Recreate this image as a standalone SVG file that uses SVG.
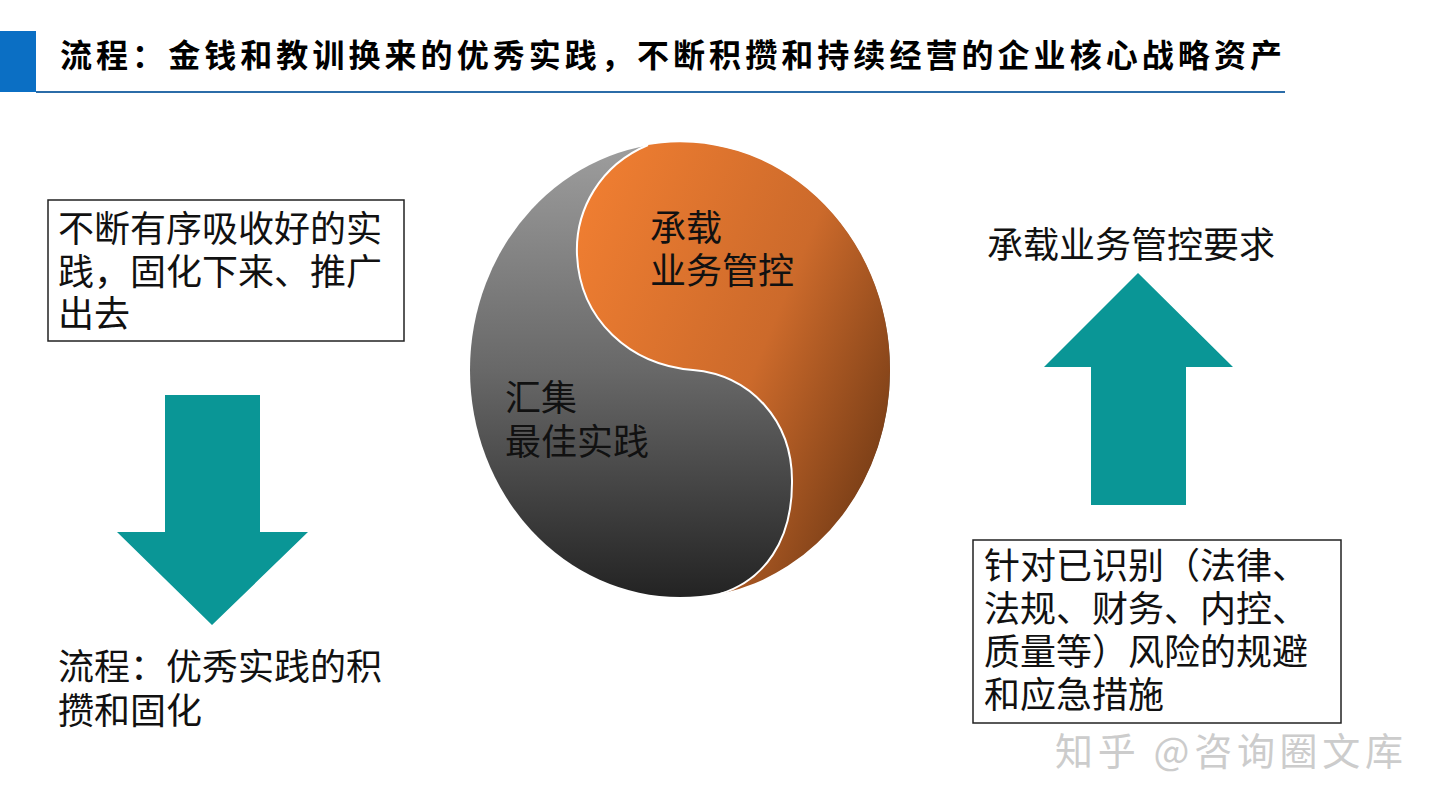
<svg xmlns="http://www.w3.org/2000/svg" width="1440" height="810" viewBox="0 0 1440 810">
  <defs>
    <linearGradient id="grayGrad" x1="0" y1="0" x2="0" y2="1">
      <stop offset="0" stop-color="#9e9e9e"/>
      <stop offset="0.5" stop-color="#686868"/>
      <stop offset="1" stop-color="#232323"/>
    </linearGradient>
    <linearGradient id="orangeGrad" x1="0" y1="0.2" x2="1" y2="0.8">
      <stop offset="0" stop-color="#ee7d31"/>
      <stop offset="0.55" stop-color="#cc6a2b"/>
      <stop offset="1" stop-color="#6e3814"/>
    </linearGradient>
    <style>
      .t { font-family: "Noto Sans CJK SC", "Noto Sans", sans-serif; font-size: 36px; fill: #111111; }
      .title { font-family: "Noto Sans CJK SC", "Noto Sans", sans-serif; font-size: 32px; font-weight: bold; fill: #000000; }
      .box { fill: #ffffff; stroke: #222222; stroke-width: 1.5; }
      .arrow { fill: #0a9696; }
      .wm { font-family: "Noto Sans CJK SC", "Noto Sans", sans-serif; font-size: 38px; fill: #cccccc; }
    </style>
  </defs>
  <rect x="0" y="0" width="1440" height="810" fill="#ffffff"/>

  <g id="header">
    <rect x="0" y="31" width="36" height="61" fill="#0b6fc4"/>
    <line x1="36" y1="92" x2="1285" y2="92" stroke="#2b6ca8" stroke-width="2"/>
    <text class="title" x="60" y="67" textLength="1222" lengthAdjust="spacing">流程：金钱和教训换来的优秀实践，不断积攒和持续经营的企业核心战略资产</text>
  </g>

  <g id="node-left-box">
    <rect class="box" x="48" y="200" width="356" height="141"/>
    <text class="t"><tspan x="58" y="242">不断有序吸收好的实</tspan><tspan x="58" y="285">践，固化下来、推广</tspan><tspan x="58" y="327">出去</tspan></text>
  </g>

  <g id="node-left-bottom">
    <text class="t"><tspan x="58" y="680">流程：优秀实践的积</tspan><tspan x="58" y="724">攒和固化</tspan></text>
  </g>

  <g id="node-yinyang">
    <ellipse cx="680" cy="370" rx="210" ry="227" fill="url(#grayGrad)"/>
    <path d="M648,145 C600,165 575,210 577,255 C580,320 630,365 693,370 C750,375 793,420 792,483 C792,540 765,580 720,594 A210 227 0 0 0 890,370 A210 227 0 0 0 648,145 Z" fill="url(#orangeGrad)"/>
    <path d="M648,145 C600,165 575,210 577,255 C580,320 630,365 693,370 C750,375 793,420 792,483 C792,540 765,580 720,594" fill="none" stroke="#ffffff" stroke-width="2"/>
    <text class="t"><tspan x="650" y="241">承载</tspan><tspan x="650" y="284">业务管控</tspan></text>
    <text class="t"><tspan x="505" y="411">汇集</tspan><tspan x="505" y="455">最佳实践</tspan></text>
  </g>

  <g id="node-right-top">
    <text class="t" x="987" y="258">承载业务管控要求</text>
  </g>

  <g id="node-right-box">
    <rect class="box" x="973" y="540" width="368" height="183"/>
    <text class="t"><tspan x="984" y="579">针对已识别（法律、</tspan><tspan x="984" y="622">法规、财务、内控、</tspan><tspan x="984" y="665">质量等）风险的规避</tspan><tspan x="984" y="708">和应急措施</tspan></text>
  </g>

  <g id="connectors">
    <polygon class="arrow" points="165,395 260,395 260,532 308,532 212,625 117,532 165,532"/>
    <polygon class="arrow" points="1138,273 1233,367 1186,367 1186,505 1091,505 1091,367 1044,367"/>
  </g>

  <g id="watermark">
    <text class="wm" x="1055" y="765" textLength="348" lengthAdjust="spacing">知乎 @咨询圈文库</text>
  </g>
</svg>
